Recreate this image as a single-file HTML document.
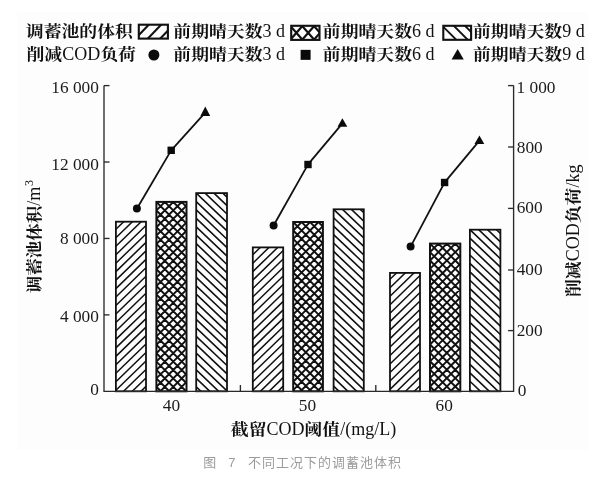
<!DOCTYPE html>
<html lang="zh-CN"><head><meta charset="utf-8"><title>图 7 不同工况下的调蓄池体积</title>
<style>
html,body{margin:0;padding:0;background:#fff;}
body{width:606px;height:484px;position:relative;overflow:hidden;font-family:"Liberation Sans","Noto Sans CJK SC",sans-serif;}
.fig{position:absolute;left:17px;top:12px;width:572px;height:438px;background:#fdfdfd;}
.cap{position:absolute;left:0;top:453px;width:606px;height:20px;font-size:13px;line-height:20px;color:#9c9c9c;letter-spacing:1px;white-space:pre;}
.cap span{position:absolute;top:0;}
</style></head><body>
<div class="fig"></div>
<svg width="606" height="484" viewBox="0 0 606 484" style="position:absolute;left:0;top:0;display:block;filter:blur(0.45px)">
<defs><clipPath id="c0"><rect x="115.90" y="221.70" width="30.10" height="169.60"/></clipPath><clipPath id="c1"><rect x="156.40" y="201.90" width="30.10" height="189.40"/></clipPath><clipPath id="c2"><rect x="196.20" y="193.10" width="30.80" height="198.20"/></clipPath><clipPath id="c3"><rect x="252.80" y="247.40" width="30.40" height="143.90"/></clipPath><clipPath id="c4"><rect x="293.20" y="222.00" width="29.70" height="169.30"/></clipPath><clipPath id="c5"><rect x="333.60" y="209.30" width="30.20" height="182.00"/></clipPath><clipPath id="c6"><rect x="390.00" y="272.90" width="30.00" height="118.40"/></clipPath><clipPath id="c7"><rect x="430.00" y="243.60" width="30.30" height="147.70"/></clipPath><clipPath id="c8"><rect x="469.90" y="229.70" width="30.50" height="161.60"/></clipPath><clipPath id="l0"><rect x="138.8" y="24.7" width="29.10" height="13.90"/></clipPath><clipPath id="l1"><rect x="291.2" y="25.8" width="28.30" height="14.10"/></clipPath><clipPath id="l2"><rect x="443.3" y="25.8" width="27.80" height="14.00"/></clipPath>
</defs>
<g clip-path="url(#c0)" stroke="#111" fill="none"><path stroke-width="1.5" d="M115.90 203.89L146.00 174.65M115.90 212.36L146.00 183.12M115.90 220.83L146.00 191.59M115.90 229.30L146.00 200.06M115.90 237.77L146.00 208.53M115.90 246.24L146.00 217.00M115.90 254.71L146.00 225.47M115.90 263.18L146.00 233.94M115.90 271.65L146.00 242.41M115.90 280.12L146.00 250.88M115.90 288.59L146.00 259.35M115.90 297.06L146.00 267.82M115.90 305.53L146.00 276.29M115.90 314.00L146.00 284.76M115.90 322.47L146.00 293.23M115.90 330.94L146.00 301.70M115.90 339.41L146.00 310.17M115.90 347.88L146.00 318.64M115.90 356.35L146.00 327.11M115.90 364.82L146.00 335.58M115.90 373.29L146.00 344.05M115.90 381.76L146.00 352.52M115.90 390.23L146.00 360.99M115.90 398.70L146.00 369.46M115.90 407.17L146.00 377.93M115.90 415.64L146.00 386.40M115.90 424.11L146.00 394.87"/></g>
<rect x="115.90" y="221.70" width="30.10" height="169.60" fill="none" stroke="#111" stroke-width="1.8"/>
<g clip-path="url(#c1)" stroke="#111" fill="none"><path stroke-width="1.95" d="M156.40 151.60L186.50 181.63M156.40 151.60L186.50 121.57M156.40 160.00L186.50 190.03M156.40 160.00L186.50 129.97M156.40 168.40L186.50 198.43M156.40 168.40L186.50 138.37M156.40 176.80L186.50 206.83M156.40 176.80L186.50 146.77M156.40 185.20L186.50 215.23M156.40 185.20L186.50 155.17M156.40 193.60L186.50 223.63M156.40 193.60L186.50 163.57M156.40 202.00L186.50 232.03M156.40 202.00L186.50 171.97M156.40 210.40L186.50 240.43M156.40 210.40L186.50 180.37M156.40 218.80L186.50 248.83M156.40 218.80L186.50 188.77M156.40 227.20L186.50 257.23M156.40 227.20L186.50 197.17M156.40 235.60L186.50 265.63M156.40 235.60L186.50 205.57M156.40 244.00L186.50 274.03M156.40 244.00L186.50 213.97M156.40 252.40L186.50 282.43M156.40 252.40L186.50 222.37M156.40 260.80L186.50 290.83M156.40 260.80L186.50 230.77M156.40 269.20L186.50 299.23M156.40 269.20L186.50 239.17M156.40 277.60L186.50 307.63M156.40 277.60L186.50 247.57M156.40 286.00L186.50 316.03M156.40 286.00L186.50 255.97M156.40 294.40L186.50 324.43M156.40 294.40L186.50 264.37M156.40 302.80L186.50 332.83M156.40 302.80L186.50 272.77M156.40 311.20L186.50 341.23M156.40 311.20L186.50 281.17M156.40 319.60L186.50 349.63M156.40 319.60L186.50 289.57M156.40 328.00L186.50 358.03M156.40 328.00L186.50 297.97M156.40 336.40L186.50 366.43M156.40 336.40L186.50 306.37M156.40 344.80L186.50 374.83M156.40 344.80L186.50 314.77M156.40 353.20L186.50 383.23M156.40 353.20L186.50 323.17M156.40 361.60L186.50 391.63M156.40 361.60L186.50 331.57M156.40 370.00L186.50 400.03M156.40 370.00L186.50 339.97M156.40 378.40L186.50 408.43M156.40 378.40L186.50 348.37M156.40 386.80L186.50 416.83M156.40 386.80L186.50 356.77M156.40 395.20L186.50 425.23M156.40 395.20L186.50 365.17M156.40 403.60L186.50 433.63M156.40 403.60L186.50 373.57M156.40 412.00L186.50 442.03M156.40 412.00L186.50 381.97M156.40 420.40L186.50 450.43M156.40 420.40L186.50 390.37M156.40 428.80L186.50 458.83M156.40 428.80L186.50 398.77"/></g>
<rect x="156.40" y="201.90" width="30.10" height="189.40" fill="none" stroke="#111" stroke-width="2.0"/>
<g clip-path="url(#c2)" stroke="#111" fill="none"><path stroke-width="1.6" d="M196.20 142.58L227.00 171.88M196.20 151.00L227.00 180.30M196.20 159.42L227.00 188.72M196.20 167.84L227.00 197.14M196.20 176.26L227.00 205.56M196.20 184.68L227.00 213.98M196.20 193.10L227.00 222.40M196.20 201.52L227.00 230.82M196.20 209.94L227.00 239.24M196.20 218.36L227.00 247.66M196.20 226.78L227.00 256.08M196.20 235.20L227.00 264.50M196.20 243.62L227.00 272.92M196.20 252.04L227.00 281.34M196.20 260.46L227.00 289.76M196.20 268.88L227.00 298.18M196.20 277.30L227.00 306.60M196.20 285.72L227.00 315.02M196.20 294.14L227.00 323.44M196.20 302.56L227.00 331.86M196.20 310.98L227.00 340.28M196.20 319.40L227.00 348.70M196.20 327.82L227.00 357.12M196.20 336.24L227.00 365.54M196.20 344.66L227.00 373.96M196.20 353.08L227.00 382.38M196.20 361.50L227.00 390.80M196.20 369.92L227.00 399.22M196.20 378.34L227.00 407.64M196.20 386.76L227.00 416.06M196.20 395.18L227.00 424.48"/></g>
<rect x="196.20" y="193.10" width="30.80" height="198.20" fill="none" stroke="#111" stroke-width="1.8"/>
<g clip-path="url(#c3)" stroke="#111" fill="none"><path stroke-width="1.5" d="M252.80 229.29L283.20 199.76M252.80 237.76L283.20 208.23M252.80 246.23L283.20 216.70M252.80 254.70L283.20 225.17M252.80 263.17L283.20 233.64M252.80 271.64L283.20 242.11M252.80 280.11L283.20 250.58M252.80 288.58L283.20 259.05M252.80 297.05L283.20 267.52M252.80 305.52L283.20 275.99M252.80 313.99L283.20 284.46M252.80 322.46L283.20 292.93M252.80 330.93L283.20 301.40M252.80 339.40L283.20 309.87M252.80 347.87L283.20 318.34M252.80 356.34L283.20 326.81M252.80 364.81L283.20 335.28M252.80 373.28L283.20 343.75M252.80 381.75L283.20 352.22M252.80 390.22L283.20 360.69M252.80 398.69L283.20 369.16M252.80 407.16L283.20 377.63M252.80 415.63L283.20 386.10M252.80 424.10L283.20 394.57"/></g>
<rect x="252.80" y="247.40" width="30.40" height="143.90" fill="none" stroke="#111" stroke-width="1.8"/>
<g clip-path="url(#c4)" stroke="#111" fill="none"><path stroke-width="1.95" d="M293.20 171.70L322.90 201.33M293.20 171.70L322.90 142.07M293.20 180.10L322.90 209.73M293.20 180.10L322.90 150.47M293.20 188.50L322.90 218.13M293.20 188.50L322.90 158.87M293.20 196.90L322.90 226.53M293.20 196.90L322.90 167.27M293.20 205.30L322.90 234.93M293.20 205.30L322.90 175.67M293.20 213.70L322.90 243.33M293.20 213.70L322.90 184.07M293.20 222.10L322.90 251.73M293.20 222.10L322.90 192.47M293.20 230.50L322.90 260.13M293.20 230.50L322.90 200.87M293.20 238.90L322.90 268.53M293.20 238.90L322.90 209.27M293.20 247.30L322.90 276.93M293.20 247.30L322.90 217.67M293.20 255.70L322.90 285.33M293.20 255.70L322.90 226.07M293.20 264.10L322.90 293.73M293.20 264.10L322.90 234.47M293.20 272.50L322.90 302.13M293.20 272.50L322.90 242.87M293.20 280.90L322.90 310.53M293.20 280.90L322.90 251.27M293.20 289.30L322.90 318.93M293.20 289.30L322.90 259.67M293.20 297.70L322.90 327.33M293.20 297.70L322.90 268.07M293.20 306.10L322.90 335.73M293.20 306.10L322.90 276.47M293.20 314.50L322.90 344.13M293.20 314.50L322.90 284.87M293.20 322.90L322.90 352.53M293.20 322.90L322.90 293.27M293.20 331.30L322.90 360.93M293.20 331.30L322.90 301.67M293.20 339.70L322.90 369.33M293.20 339.70L322.90 310.07M293.20 348.10L322.90 377.73M293.20 348.10L322.90 318.47M293.20 356.50L322.90 386.13M293.20 356.50L322.90 326.87M293.20 364.90L322.90 394.53M293.20 364.90L322.90 335.27M293.20 373.30L322.90 402.93M293.20 373.30L322.90 343.67M293.20 381.70L322.90 411.33M293.20 381.70L322.90 352.07M293.20 390.10L322.90 419.73M293.20 390.10L322.90 360.47M293.20 398.50L322.90 428.13M293.20 398.50L322.90 368.87M293.20 406.90L322.90 436.53M293.20 406.90L322.90 377.27M293.20 415.30L322.90 444.93M293.20 415.30L322.90 385.67M293.20 423.70L322.90 453.33M293.20 423.70L322.90 394.07"/></g>
<rect x="293.20" y="222.00" width="29.70" height="169.30" fill="none" stroke="#111" stroke-width="2.0"/>
<g clip-path="url(#c5)" stroke="#111" fill="none"><path stroke-width="1.6" d="M333.60 158.78L363.80 187.51M333.60 167.20L363.80 195.93M333.60 175.62L363.80 204.35M333.60 184.04L363.80 212.77M333.60 192.46L363.80 221.19M333.60 200.88L363.80 229.61M333.60 209.30L363.80 238.03M333.60 217.72L363.80 246.45M333.60 226.14L363.80 254.87M333.60 234.56L363.80 263.29M333.60 242.98L363.80 271.71M333.60 251.40L363.80 280.13M333.60 259.82L363.80 288.55M333.60 268.24L363.80 296.97M333.60 276.66L363.80 305.39M333.60 285.08L363.80 313.81M333.60 293.50L363.80 322.23M333.60 301.92L363.80 330.65M333.60 310.34L363.80 339.07M333.60 318.76L363.80 347.49M333.60 327.18L363.80 355.91M333.60 335.60L363.80 364.33M333.60 344.02L363.80 372.75M333.60 352.44L363.80 381.17M333.60 360.86L363.80 389.59M333.60 369.28L363.80 398.01M333.60 377.70L363.80 406.43M333.60 386.12L363.80 414.85M333.60 394.54L363.80 423.27"/></g>
<rect x="333.60" y="209.30" width="30.20" height="182.00" fill="none" stroke="#111" stroke-width="1.8"/>
<g clip-path="url(#c6)" stroke="#111" fill="none"><path stroke-width="1.5" d="M390.00 253.89L420.00 224.75M390.00 262.36L420.00 233.22M390.00 270.83L420.00 241.69M390.00 279.30L420.00 250.16M390.00 287.77L420.00 258.63M390.00 296.24L420.00 267.10M390.00 304.71L420.00 275.57M390.00 313.18L420.00 284.04M390.00 321.65L420.00 292.51M390.00 330.12L420.00 300.98M390.00 338.59L420.00 309.45M390.00 347.06L420.00 317.92M390.00 355.53L420.00 326.39M390.00 364.00L420.00 334.86M390.00 372.47L420.00 343.33M390.00 380.94L420.00 351.80M390.00 389.41L420.00 360.27M390.00 397.88L420.00 368.74M390.00 406.35L420.00 377.21M390.00 414.82L420.00 385.68M390.00 423.29L420.00 394.15"/></g>
<rect x="390.00" y="272.90" width="30.00" height="118.40" fill="none" stroke="#111" stroke-width="1.8"/>
<g clip-path="url(#c7)" stroke="#111" fill="none"><path stroke-width="1.95" d="M430.00 193.30L460.30 223.53M430.00 193.30L460.30 163.07M430.00 201.70L460.30 231.93M430.00 201.70L460.30 171.47M430.00 210.10L460.30 240.33M430.00 210.10L460.30 179.87M430.00 218.50L460.30 248.73M430.00 218.50L460.30 188.27M430.00 226.90L460.30 257.13M430.00 226.90L460.30 196.67M430.00 235.30L460.30 265.53M430.00 235.30L460.30 205.07M430.00 243.70L460.30 273.93M430.00 243.70L460.30 213.47M430.00 252.10L460.30 282.33M430.00 252.10L460.30 221.87M430.00 260.50L460.30 290.73M430.00 260.50L460.30 230.27M430.00 268.90L460.30 299.13M430.00 268.90L460.30 238.67M430.00 277.30L460.30 307.53M430.00 277.30L460.30 247.07M430.00 285.70L460.30 315.93M430.00 285.70L460.30 255.47M430.00 294.10L460.30 324.33M430.00 294.10L460.30 263.87M430.00 302.50L460.30 332.73M430.00 302.50L460.30 272.27M430.00 310.90L460.30 341.13M430.00 310.90L460.30 280.67M430.00 319.30L460.30 349.53M430.00 319.30L460.30 289.07M430.00 327.70L460.30 357.93M430.00 327.70L460.30 297.47M430.00 336.10L460.30 366.33M430.00 336.10L460.30 305.87M430.00 344.50L460.30 374.73M430.00 344.50L460.30 314.27M430.00 352.90L460.30 383.13M430.00 352.90L460.30 322.67M430.00 361.30L460.30 391.53M430.00 361.30L460.30 331.07M430.00 369.70L460.30 399.93M430.00 369.70L460.30 339.47M430.00 378.10L460.30 408.33M430.00 378.10L460.30 347.87M430.00 386.50L460.30 416.73M430.00 386.50L460.30 356.27M430.00 394.90L460.30 425.13M430.00 394.90L460.30 364.67M430.00 403.30L460.30 433.53M430.00 403.30L460.30 373.07M430.00 411.70L460.30 441.93M430.00 411.70L460.30 381.47M430.00 420.10L460.30 450.33M430.00 420.10L460.30 389.87M430.00 428.50L460.30 458.73M430.00 428.50L460.30 398.27"/></g>
<rect x="430.00" y="243.60" width="30.30" height="147.70" fill="none" stroke="#111" stroke-width="2.0"/>
<g clip-path="url(#c8)" stroke="#111" fill="none"><path stroke-width="1.6" d="M469.90 179.18L500.40 208.20M469.90 187.60L500.40 216.62M469.90 196.02L500.40 225.04M469.90 204.44L500.40 233.46M469.90 212.86L500.40 241.88M469.90 221.28L500.40 250.30M469.90 229.70L500.40 258.72M469.90 238.12L500.40 267.14M469.90 246.54L500.40 275.56M469.90 254.96L500.40 283.98M469.90 263.38L500.40 292.40M469.90 271.80L500.40 300.82M469.90 280.22L500.40 309.24M469.90 288.64L500.40 317.66M469.90 297.06L500.40 326.08M469.90 305.48L500.40 334.50M469.90 313.90L500.40 342.92M469.90 322.32L500.40 351.34M469.90 330.74L500.40 359.76M469.90 339.16L500.40 368.18M469.90 347.58L500.40 376.60M469.90 356.00L500.40 385.02M469.90 364.42L500.40 393.44M469.90 372.84L500.40 401.86M469.90 381.26L500.40 410.28M469.90 389.68L500.40 418.70M469.90 398.10L500.40 427.12"/></g>
<rect x="469.90" y="229.70" width="30.50" height="161.60" fill="none" stroke="#111" stroke-width="1.8"/>
<g stroke="#2a2a2a" stroke-width="1.35" fill="none">
<path d="M104.0 85.6V391.3H513.6V85.6"/>
<path d="M104.0 314.88h5.5"/>
<path d="M104.0 238.45h5.5"/>
<path d="M104.0 162.02h5.5"/>
<path d="M104.0 85.60h5.5"/>
<path d="M513.6 330.60h-5.5"/>
<path d="M513.6 270.00h-5.5"/>
<path d="M513.6 208.40h-5.5"/>
<path d="M513.6 147.00h-5.5"/>
<path d="M513.6 85.60h-5.5"/>
<path d="M240.4 391.3v-6.3"/>
<path d="M375.8 391.3v-6.3"/>
</g>
<g stroke="#111" stroke-width="1.8" fill="none"><path d="M138.62 205.67L169.68 152.89"/><path d="M173.21 148.07L203.63 114.29"/><path d="M275.27 222.54L306.53 167.11"/><path d="M309.93 162.20L340.79 125.45"/><path d="M412.19 243.60L443.19 185.15"/><path d="M446.52 180.20L477.80 142.65"/></g><g fill="#0a0a0a"><circle cx="136.9" cy="208.6" r="4.0"/><rect x="167.50" y="146.60" width="7.4" height="7.4"/><path d="M205.3 106.6L210.20 116.0H200.40Z"/><circle cx="273.6" cy="225.5" r="4.0"/><rect x="304.30" y="160.80" width="7.4" height="7.4"/><path d="M342.4 118.2L347.30 126.8H337.50Z"/><circle cx="410.6" cy="246.6" r="4.0"/><rect x="440.90" y="178.80" width="7.4" height="7.4"/><path d="M479.4 135.4L484.30 144.0H474.50Z"/></g>
<g font-family="'Liberation Serif','Noto Serif CJK SC',serif" font-size="17.3" fill="#1a1a1a">
<text x="98.9" y="395.30" text-anchor="end">0</text>
<text x="98.9" y="321.70" text-anchor="end">4 000</text>
<text x="98.9" y="244.40" text-anchor="end">8 000</text>
<text x="98.9" y="169.90" text-anchor="end">12 000</text>
<text x="98.9" y="92.70" text-anchor="end">16 000</text>
<text x="517.8" y="396.40">0</text>
<text x="516.7" y="336.00">200</text>
<text x="516.7" y="275.30">400</text>
<text x="516.7" y="212.90">600</text>
<text x="516.8" y="152.70">800</text>
<text x="516.6" y="92.90">1 000</text>
<text x="171.4" y="411.2" text-anchor="middle">40</text>
<text x="307.4" y="411.2" text-anchor="middle">50</text>
<text x="444.2" y="411.2" text-anchor="middle">60</text>
</g>
<g font-family="'Liberation Serif','Noto Serif CJK SC',serif" fill="#111">
<g transform="translate(230.80,435.30)"><text transform="translate(0.00,0) scale(1.1226,1)" font-size="15.9" font-weight="700">截留</text><text x="35.70" y="0" font-size="18">COD</text><text transform="translate(73.70,0) scale(1.1226,1)" font-size="15.9" font-weight="700">阈值</text><text x="109.40" y="0" font-size="18">/(mg/L)</text></g>
<g transform="translate(40.20,293.20) rotate(-90)"><text transform="translate(0.00,0) scale(1.1006,1)" font-size="15.9" font-weight="700">调蓄池体积</text><text x="87.50" y="0" font-size="18">/m</text><text x="107.10" y="-6.8" font-size="12">3</text></g>
<g transform="translate(579.30,297.00) rotate(-90)"><text transform="translate(0.00,0) scale(1.1226,1)" font-size="15.9" font-weight="700">削减</text><text x="35.70" y="0" font-size="18">COD</text><text transform="translate(73.70,0) scale(1.1226,1)" font-size="15.9" font-weight="700">负荷</text><text x="109.40" y="0" font-size="18">/kg</text></g>
<g transform="translate(25.80,36.50)"><text transform="translate(0.00,0) scale(1.1226,1)" font-size="15.9" font-weight="700">调蓄池的体积</text></g>
<g transform="translate(26.50,60.20)"><text transform="translate(0.00,0) scale(1.1226,1)" font-size="15.9" font-weight="700">削减</text><text x="35.70" y="0" font-size="18">COD</text><text transform="translate(73.70,0) scale(1.1226,1)" font-size="15.9" font-weight="700">负荷</text></g>
<g transform="translate(173.30,36.50)"><text transform="translate(0.00,0) scale(1.1226,1)" font-size="15.9" font-weight="700">前期晴天数</text><text x="89.25" y="0" font-size="18">3 d</text></g>
<g transform="translate(173.30,60.20)"><text transform="translate(0.00,0) scale(1.1226,1)" font-size="15.9" font-weight="700">前期晴天数</text><text x="89.25" y="0" font-size="18">3 d</text></g>
<g transform="translate(322.80,36.50)"><text transform="translate(0.00,0) scale(1.1226,1)" font-size="15.9" font-weight="700">前期晴天数</text><text x="89.25" y="0" font-size="18">6 d</text></g>
<g transform="translate(322.80,60.20)"><text transform="translate(0.00,0) scale(1.1226,1)" font-size="15.9" font-weight="700">前期晴天数</text><text x="89.25" y="0" font-size="18">6 d</text></g>
<g transform="translate(473.00,36.50)"><text transform="translate(0.00,0) scale(1.1226,1)" font-size="15.9" font-weight="700">前期晴天数</text><text x="89.25" y="0" font-size="18">9 d</text></g>
<g transform="translate(473.00,60.20)"><text transform="translate(0.00,0) scale(1.1226,1)" font-size="15.9" font-weight="700">前期晴天数</text><text x="89.25" y="0" font-size="18">9 d</text></g>
</g>
<g clip-path="url(#l0)" stroke="#111" fill="none" stroke-width="1.7"><path stroke-width="2.1" d="M133.40 40.70L150.77 22.60"/><path stroke-width="2.1" d="M145.80 40.70L163.17 22.60"/><path stroke-width="2.1" d="M158.20 40.70L175.57 22.60"/></g>
<rect x="138.8" y="24.7" width="29.10" height="13.90" fill="none" stroke="#111" stroke-width="2.1"/>
<g clip-path="url(#l1)" stroke="#111" fill="none" stroke-width="1.7"><path stroke-width="2.2" d="M274.60 21.45L294.60 44.25M274.60 44.25L294.60 21.45"/><path stroke-width="2.2" d="M286.40 21.45L306.40 44.25M286.40 44.25L306.40 21.45"/><path stroke-width="2.2" d="M298.20 21.45L318.20 44.25M298.20 44.25L318.20 21.45"/><path stroke-width="2.2" d="M310.00 21.45L330.00 44.25M310.00 44.25L330.00 21.45"/><path stroke-width="2.2" d="M321.80 21.45L341.80 44.25M321.80 44.25L341.80 21.45"/></g>
<rect x="291.2" y="25.8" width="28.30" height="14.10" fill="none" stroke="#111" stroke-width="2.1"/>
<g clip-path="url(#l2)" stroke="#111" fill="none" stroke-width="1.7"><path stroke-width="1.9" d="M438.70 22.20L460.70 44.20"/><path stroke-width="1.9" d="M449.40 21.40L471.40 43.40"/><path stroke-width="1.9" d="M460.20 21.00L482.20 43.00"/></g>
<rect x="443.3" y="25.8" width="27.80" height="14.00" fill="none" stroke="#111" stroke-width="2.1"/>
<g fill="#0a0a0a">
<circle cx="153.9" cy="55.0" r="5.5"/>
<rect x="300.60" y="49.85" width="10.0" height="10.0"/>
<path d="M457.65 48.9L463.75 59.4H451.55Z"/>
</g>
</svg>
<div class="cap"><span style="left:203.2px">图</span><span style="left:228.2px">7</span><span style="left:248px">不同工况下的调蓄池体积</span></div>
</body></html>
